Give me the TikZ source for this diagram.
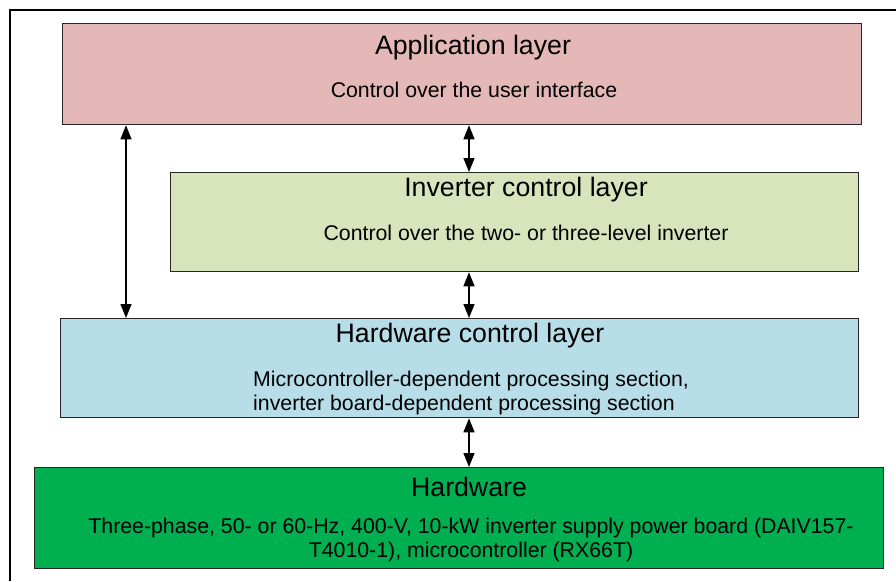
\documentclass[tikz,border=0pt]{standalone}
\usepackage{fontspec}
\setmainfont{Liberation Sans}
\usetikzlibrary{positioning}
\usetikzlibrary{arrows.meta}
\definecolor{appred}{HTML}{E5B8B8}
\definecolor{invgreen}{HTML}{D8E4BC}
\definecolor{hwcblue}{HTML}{B7DDE8}
\definecolor{hwgreen}{HTML}{00B050}
\tikzset{
    layer/.style = {rectangle, draw=black!85, line width=1.3pt, anchor=north west, inner sep=0pt},
    title/.style = {font=\fontsize{26.7}{30}\selectfont},
    body/.style = {font=\fontsize{21.3}{24.5}\selectfont, inner sep=0pt},
    twoway/.style = {{Triangle[length=14pt,width=11pt]}-{Triangle[length=14pt,width=11pt]}, line width=1.3pt},
    frame/.style = {line width=1.5pt, draw=black}
}

\begin{document}
\begin{tikzpicture}[x=1pt,y=-1pt]
\useasboundingbox (0,0) rectangle (896,581);
\draw[frame] (896,10) -- (10,10) -- (10,581);
%
\node[layer, fill=appred, minimum width=799pt, minimum height=101pt] at (62,23) (app) {};
\node[layer, fill=invgreen, minimum width=688pt, minimum height=99pt] at (170,172) (inv) {};
\node[layer, fill=hwcblue, minimum width=798pt, minimum height=99pt] at (60,318) (hwc) {};
\node[layer, fill=hwgreen, minimum width=849pt, minimum height=101pt] at (34,467) (hw) {};
%
\node[title] at (473,48) (apptitle) {Application layer};
\node[body] at (474,90) (appbody) {Control over the user interface};
\node[title] at (526,190) (invtitle) {Inverter control layer};
\node[body] at (526,233) (invbody) {Control over the two- or three-level inverter};
\node[title] at (470,336) (hwctitle) {Hardware control layer};
\node[body, align=left, anchor=west] at (253,393) (hwcbody) {Microcontroller-dependent processing section,\\inverter board-dependent processing section};
\node[title] at (469,487) (hwtitle) {Hardware};
\node[body, align=center] at (471,540) (hwbody) {Three-phase, 50- or 60-Hz, 400-V, 10-kW inverter supply power board (DAIV157-\\T4010-1), microcontroller (RX66T)};
%
\coordinate (lft) at (126,0);
\coordinate (mid) at (469,0);
\draw[twoway] (app.south -| lft) -- (hwc.north -| lft);
\draw[twoway] (app.south -| mid) -- (inv.north -| mid);
\draw[twoway] (inv.south -| mid) -- (hwc.north -| mid);
\draw[twoway] (hwc.south -| mid) -- (hw.north -| mid);

\end{tikzpicture}
\end{document}
